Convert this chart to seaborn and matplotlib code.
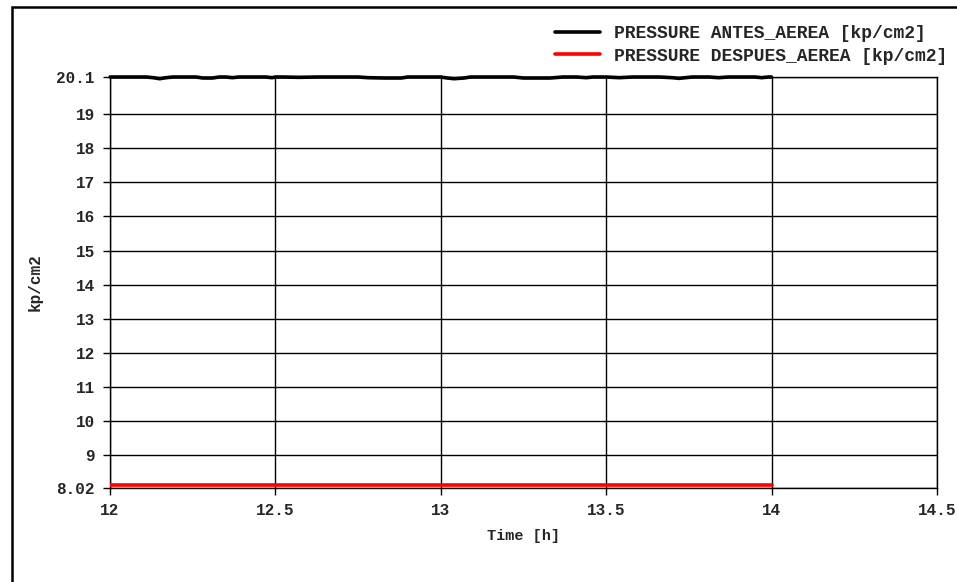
import pandas as pd
import seaborn as sns
import matplotlib.pyplot as plt
from matplotlib.patches import Rectangle

# ================================
# Datos
# ================================
t_antes = [12.0, 12.11, 12.13, 12.15, 12.17, 12.19, 12.26, 12.28, 12.31, 12.33,
           12.35, 12.37, 12.39, 12.47, 12.49, 12.50, 12.52, 12.57, 12.63, 12.75,
           12.78, 12.83, 12.88, 12.90, 13.0, 13.02, 13.04, 13.07, 13.09, 13.22,
           13.25, 13.33, 13.37, 13.41, 13.44, 13.46, 13.50, 13.54, 13.58, 13.66,
           13.70, 13.72, 13.74, 13.76, 13.81, 13.84, 13.87, 13.95, 13.97, 13.99, 14.0]
p_antes = [20.1, 20.1, 20.08, 20.05, 20.08, 20.1, 20.1, 20.07, 20.07, 20.1,
           20.1, 20.08, 20.1, 20.1, 20.08, 20.1, 20.1, 20.09, 20.1, 20.1,
           20.08, 20.07, 20.07, 20.1, 20.1, 20.07, 20.05, 20.07, 20.1, 20.1,
           20.07, 20.07, 20.1, 20.1, 20.08, 20.1, 20.1, 20.08, 20.1, 20.1,
           20.08, 20.06, 20.08, 20.1, 20.1, 20.08, 20.1, 20.1, 20.08, 20.1, 20.1]

t_despues = [12.0, 14.0]
p_despues = [8.12, 8.12]

y_ticks = [8.02, 9, 10, 11, 12, 13, 14, 15, 16, 17, 18, 19, 20.1]
y_labels = ["8.02", "9", "10", "11", "12", "13", "14", "15", "16", "17", "18", "19", "20.1"]
x_ticks = [12, 12.5, 13, 13.5, 14, 14.5]
x_labels = ["12", "12.5", "13", "13.5", "14", "14.5"]

df_antes = pd.DataFrame({"t": t_antes, "p": p_antes})
df_despues = pd.DataFrame({"t": t_despues, "p": p_despues})

sns.set_style("white")
plt.rcParams["font.family"] = ["Liberation Mono", "DejaVu Sans Mono"]
plt.rcParams["font.weight"] = "bold"

fig = plt.figure(figsize=(9.57, 5.82), dpi=100)
ax = fig.add_axes([0.115, 0.1615, 0.864, 0.7062])

sns.lineplot(x="t", y="p", data=df_antes, color="black", lw=2.6, ax=ax,
             label="PRESSURE ANTES_AEREA [kp/cm2]", clip_on=False, zorder=5)
sns.lineplot(x="t", y="p", data=df_despues, color="#ff0000", lw=2.6, ax=ax,
             label="PRESSURE DESPUES_AEREA [kp/cm2]", zorder=5)

ax.set_xlim(12, 14.5)
ax.set_ylim(8.02, 20.1)
ax.set_xticks(x_ticks)
ax.set_xticklabels(x_labels, fontsize=11.5, fontweight="bold")
ax.set_yticks(y_ticks)
ax.set_yticklabels(y_labels, fontsize=11.5, fontweight="bold")
ax.grid(True, color="black", lw=1.0)
ax.tick_params(axis="both", direction="out", length=5, width=1, color="black",
               left=True, bottom=True, pad=6)
for s in ax.spines.values():
    s.set_color("black")
    s.set_linewidth(1.0)

ax.set_xlabel("Time [h]", fontsize=11, fontweight="bold", labelpad=8)
ax.set_ylabel("kp/cm2", fontsize=11.5, fontweight="bold", labelpad=10)

leg = ax.legend(loc="lower right", bbox_to_anchor=(0.99, 0.889),
                bbox_transform=fig.transFigure, frameon=False,
                fontsize=13, handlelength=2.5, handletextpad=0.8,
                labelspacing=0.3, borderaxespad=0.0, borderpad=0.0)
for t in leg.get_texts():
    t.set_fontweight("bold")

# marco exterior
fig.patches.append(Rectangle((12 / 957, -0.1), 1.1, 1.1 - 7 / 582,
                             transform=fig.transFigure, fill=False,
                             edgecolor="black", lw=1.8, clip_on=False))

fig.savefig("out.png", dpi=100, facecolor="white")
